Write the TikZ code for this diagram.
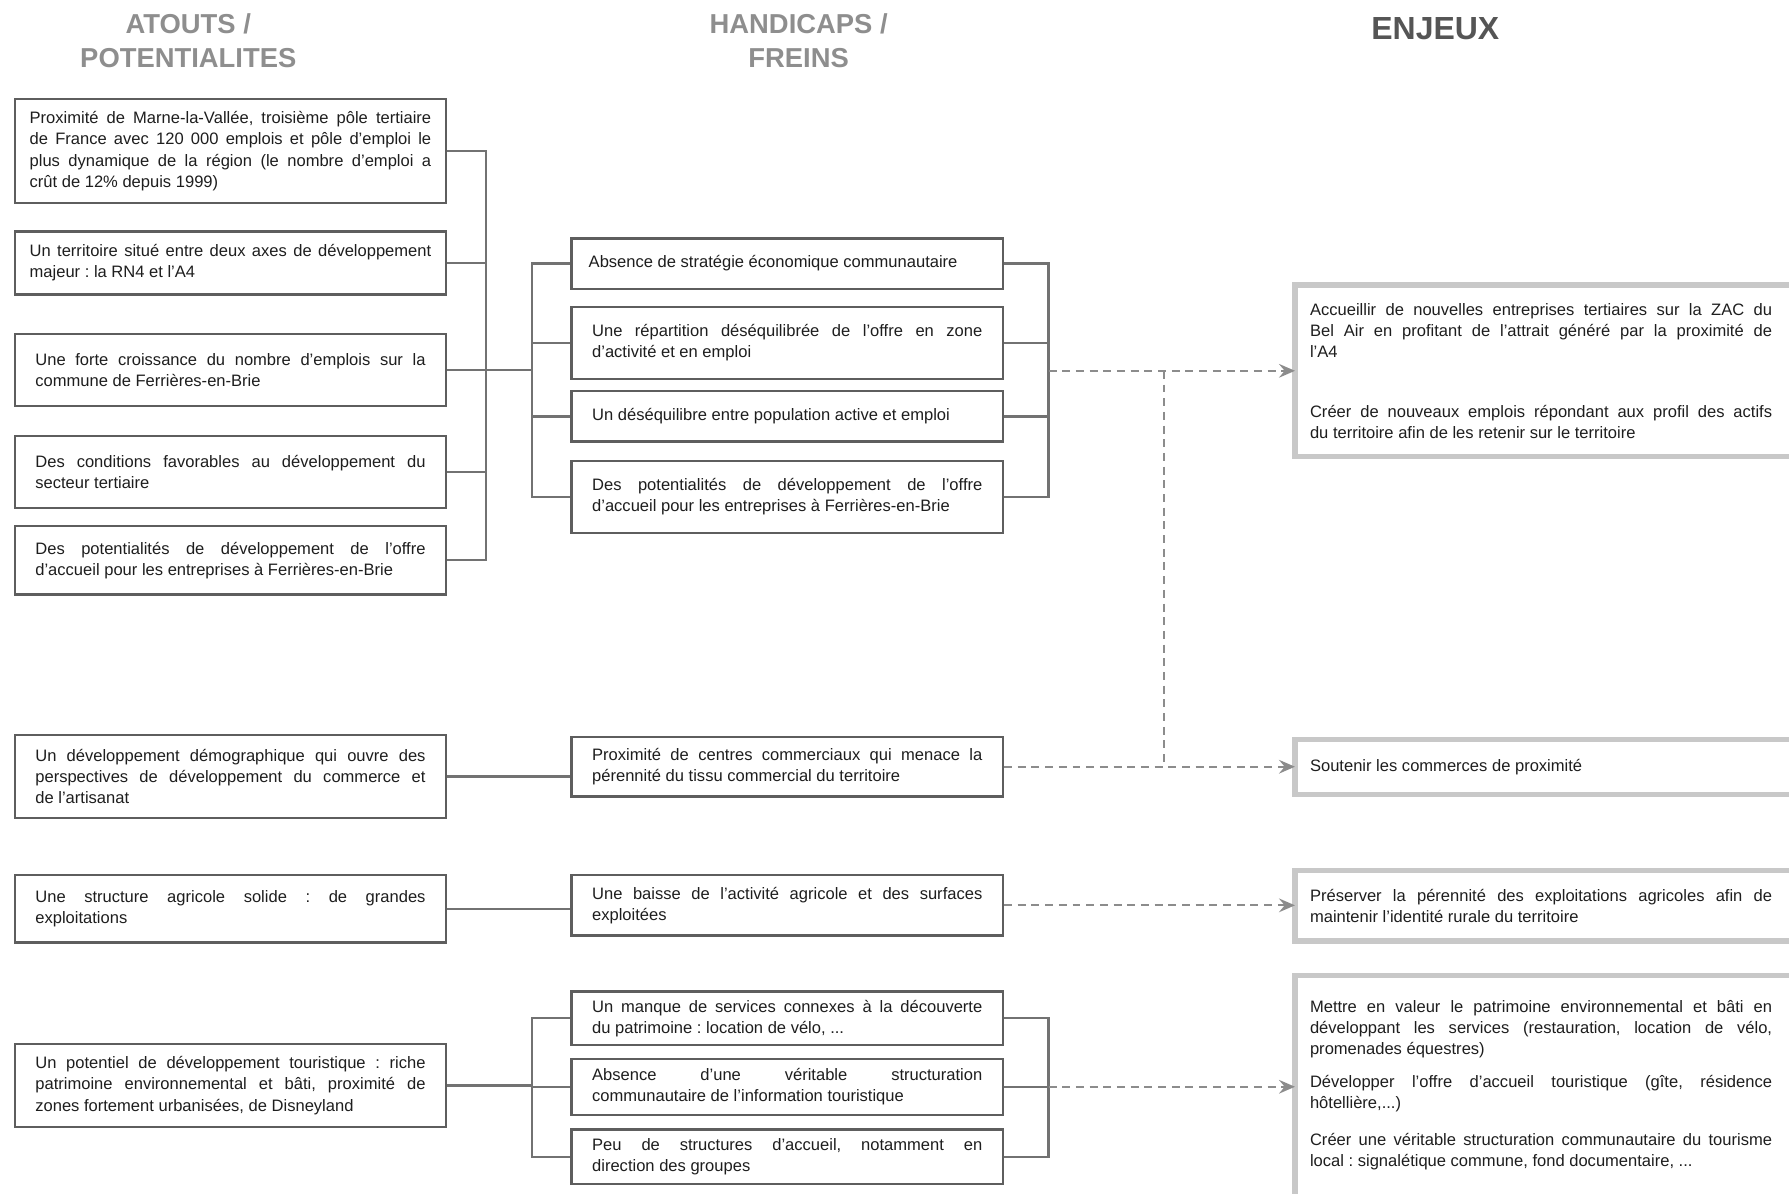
\documentclass[tikz,border=0pt]{standalone}
\usepackage{fontspec}
\setmainfont{Liberation Sans}
\usetikzlibrary{arrows.meta}
\definecolor{griscadre}{HTML}{5E5E5E}
\definecolor{gristrait}{HTML}{727272}
\definecolor{gristiret}{HTML}{8C8C8C}
\definecolor{grisenjeu}{HTML}{C8C8C8}
\definecolor{gristitre}{HTML}{8E8E8E}
\definecolor{grisfonce}{HTML}{555555}
\definecolor{noirtexte}{HTML}{1E1E1E}
\hyphenpenalty=10000
\tolerance=10000
\hbadness=10000
\frenchspacing
\begin{document}
\begin{tikzpicture}[x=1pt,y=-1pt,
	boite/.style={draw=griscadre,line width=2pt,text=noirtexte,align=justify,text width=342pt,minimum width=378pt,inner xsep=0pt,font=\fontsize{14.5}{18.5}\selectfont},
	enjeu/.style={anchor=west,text=noirtexte,align=justify,text width=405pt,inner xsep=13pt,font=\fontsize{14.5}{18.5}\selectfont},
	cadreenjeu/.style={draw=grisenjeu,line width=4.5pt},
	titre/.style={text=gristitre,align=center,font=\fontsize{24}{30}\selectfont\bfseries},
	lien/.style={draw=gristrait,line width=2pt},
	pointille/.style={draw=gristiret,line width=2pt,dash pattern=on 7pt off 5pt},
	fleche/.style={pointille,-{Stealth[length=14pt,width=12pt,inset=5pt,sep=0pt]}}]
	\useasboundingbox[fill=white] (0,0) rectangle (1568,1046);
	\clip (0,0) rectangle (1568,1046);

	\node[titre] (tatout) at (165,36) {ATOUTS /\\POTENTIALITES};
	\node[titre] (thandi) at (700,36) {HANDICAPS /\\FREINS};
	\node[titre,text=grisfonce,font=\fontsize{28}{30}\selectfont\bfseries] (tenjeu) at (1258,25) {ENJEUX};

	\node[boite,text width=352pt,minimum height=91pt] (a1) at (202,132.5) {Proximité de Marne-la-Vallée, troisième pôle tertiaire \linebreak de France avec 120~000 emplois et pôle d'emploi le \linebreak plus dynamique de la région (le nombre d'emploi a \linebreak crût de 12\% depuis 1999)};
	\node[boite,text width=352pt,minimum height=55pt] (a2) at (202,230.5) {Un territoire situé entre deux axes de développement \linebreak majeur : la RN4 et l'A4};
	\node[boite,minimum height=63pt] (a3) at (202,324.5) {Une forte croissance du nombre d'emplois sur la \linebreak commune de Ferrières-en-Brie};
	\node[boite,minimum height=63pt] (a4) at (202,413.5) {Des conditions favorables au développement du \linebreak secteur tertiaire};
	\node[boite,minimum height=60pt] (a5) at (202,491) {Des potentialités de développement de l'offre \linebreak d'accueil pour les entreprises à Ferrières-en-Brie};
	\node[boite,minimum height=73pt] (a6) at (202,680.5) {Un développement démographique qui ouvre des \linebreak perspectives de développement du commerce et \linebreak de l'artisanat};
	\node[boite,minimum height=59pt] (a7) at (202,796.5) {Une structure agricole solide : de grandes \linebreak exploitations};
	\node[boite,minimum height=73pt] (a8) at (202,951.5) {Un potentiel de développement touristique : riche \linebreak patrimoine environnemental et bâti, proximité de \linebreak zones fortement urbanisées, de Disneyland};

	\node[boite,text width=348pt,minimum height=44pt] (h1) at (690,231) {Absence de stratégie économique communautaire};
	\node[boite,minimum height=63pt] (h2) at (690,300.5) {Une répartition déséquilibrée de l'offre en zone \linebreak d'activité et en emploi};
	\node[boite,minimum height=44pt] (h3) at (690,365) {Un déséquilibre entre population active et emploi};
	\node[boite,minimum height=63pt] (h4) at (690,435.5) {Des potentialités de développement de l'offre \linebreak d'accueil pour les entreprises à Ferrières-en-Brie};
	\node[boite,minimum height=52pt] (h5) at (690,672) {Proximité de centres commerciaux qui menace la \linebreak pérennité du tissu commercial du territoire};
	\node[boite,minimum height=53pt] (h6) at (690,793.5) {Une baisse de l'activité agricole et des surfaces \linebreak exploitées};
	\node[boite,minimum height=47pt] (h7) at (690,892.5) {Un manque de services connexes à la découverte \linebreak du patrimoine : location de vélo, ...};
	\node[boite,minimum height=49pt] (h8) at (690,952.5) {Absence d'une véritable structuration \linebreak communautaire de l'information touristique};
	\node[boite,minimum height=48pt] (h9) at (690,1014) {Peu de structures d'accueil, notamment en \linebreak direction des groupes};

	\node[enjeu,minimum height=150pt] (e1) at (1135,325) {Accueillir de nouvelles entreprises tertiaires sur la ZAC du \linebreak Bel Air en profitant de l'attrait généré par la proximité de \linebreak l'A4\par\vspace{34pt}Créer de nouveaux emplois répondant aux profil des actifs \linebreak du territoire afin de les retenir sur le territoire};
	\node[enjeu,minimum height=48pt] (e2) at (1135,672) {Soutenir les commerces de proximité};
	\node[enjeu,minimum height=61pt] (e3) at (1135,794) {Préserver la pérennité des exploitations agricoles afin de \linebreak maintenir l'identité rurale du territoire};
	\node[enjeu,minimum height=192pt] (e4) at (1135,951) {Mettre en valeur le patrimoine environnemental et bâti en \linebreak développant les services (restauration, location de vélo, \linebreak promenades équestres)\par\vspace{10pt}Développer l'offre d'accueil touristique (gîte, résidence \linebreak hôtellière,...)\par\vspace{14pt}Créer une véritable structuration communautaire du tourisme \linebreak local : signalétique commune, fond documentaire, ...};
	\draw[cadreenjeu] (e1.north west) rectangle ([xshift=60pt]e1.south east);
	\draw[cadreenjeu] (e2.north west) rectangle ([xshift=60pt]e2.south east);
	\draw[cadreenjeu] (e3.north west) rectangle ([xshift=60pt]e3.south east);
	\draw[cadreenjeu] (e4.north west) rectangle ([xshift=60pt,yshift=-40pt]e4.south east);

	\coordinate (busA) at (426,0);
	\coordinate (busH) at (466,0);
	\coordinate (busR) at (919,0);
	\coordinate (renvoi) at (1020,325);

	\draw[lien] (a1.east) -| (busA |- a5.east) -- (a5.east);
	\draw[lien] (a2.east) -- (a2.east -| busA);
	\draw[lien] (a4.east) -- (a4.east -| busA);
	\draw[lien] (a3.east) -- (a3.east -| busH);
	\draw[lien] (h1.west) -| (busH |- h4.west) -- (h4.west);
	\draw[lien] (h2.west) -- (h2.west -| busH);
	\draw[lien] (h3.west) -- (h3.west -| busH);
	\draw[lien] (h1.east) -| (busR |- h4.east) -- (h4.east);
	\draw[lien] (h2.east) -- (h2.east -| busR);
	\draw[lien] (h3.east) -- (h3.east -| busR);
	\draw[fleche] (busR |- e1.west) -- (e1.west);
	\draw[pointille] (renvoi) -- (renvoi |- e2.west);

	\draw[lien] (a6.east) -- (a6.east -| h5.west);
	\draw[fleche] (h5.east) -- (h5.east -| e2.west);
	\draw[lien] (a7.east) -- (a7.east -| h6.west);
	\draw[fleche] (h6.east) -- (h6.east -| e3.west);

	\draw[lien] (a8.east) -- (a8.east -| busH);
	\draw[lien] (h7.west) -| (busH |- h9.west) -- (h9.west);
	\draw[lien] (h8.west) -- (h8.west -| busH);
	\draw[lien] (h7.east) -| (busR |- h9.east) -- (h9.east);
	\draw[lien] (h8.east) -- (h8.east -| busR);
	\draw[fleche] (h8.east -| busR) -- (h8.east -| e4.west);
\end{tikzpicture}
\end{document}
